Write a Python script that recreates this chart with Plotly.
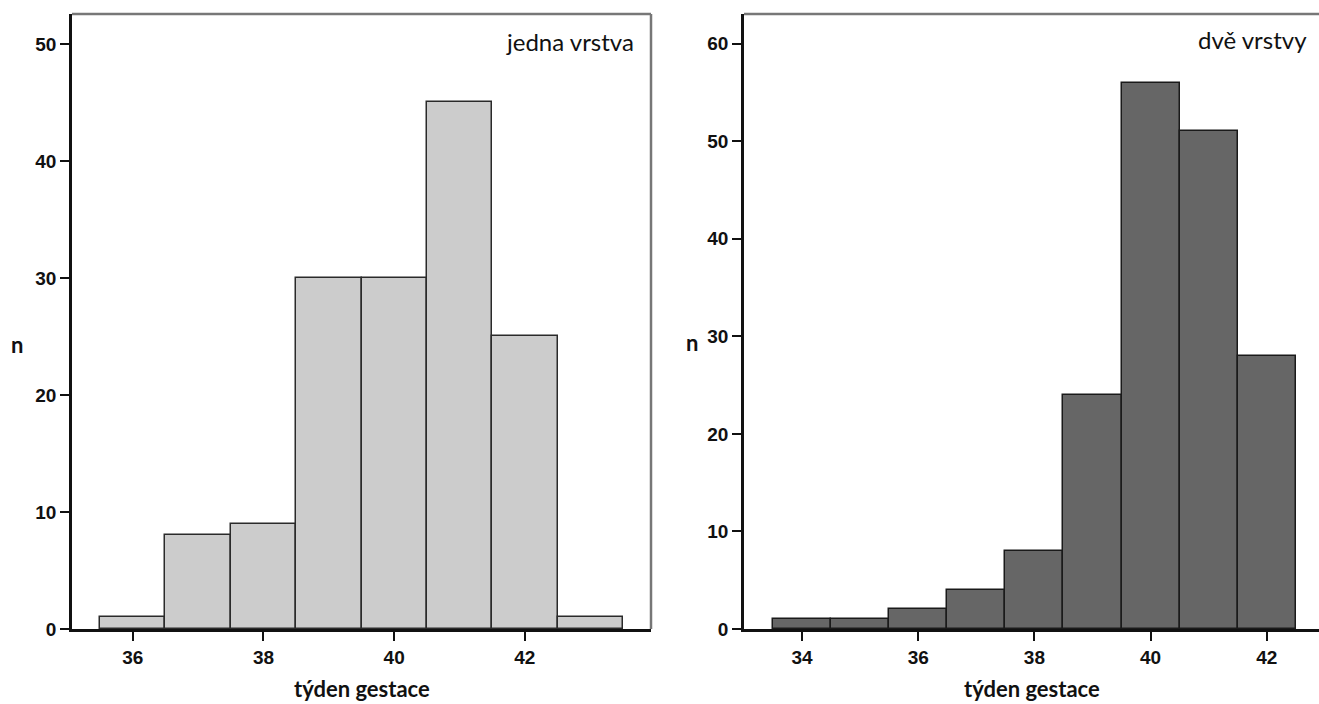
import plotly.graph_objects as go

# Data
weeks_one = [36, 37, 38, 39, 40, 41, 42, 43]
counts_one = [1, 8, 9, 30, 30, 45, 25, 1]
weeks_two = [34, 35, 36, 37, 38, 39, 40, 41, 42]
counts_two = [1, 1, 2, 4, 8, 24, 56, 51, 28]
label_one = "jedna vrstva"
label_two = "dvě vrstvy"
x_title = "týden gestace"
y_title = "n"

W, H = 1319, 704
tick_font = dict(family="Liberation Sans Narrow, Liberation Sans, Arial", size=19, color="#111", weight="bold")
title_font = dict(family="Lato, Open Sans", size=22, color="#111", weight="bold")
label_font = dict(family="Lato, Open Sans", size=24, color="#111")

fig = go.Figure()
fig.add_trace(go.Bar(x=weeks_one, y=counts_one, width=1, xaxis="x", yaxis="y",
                     marker=dict(color="#cccccc", line=dict(color="#2a2a2a", width=1.5)),
                     showlegend=False))
fig.add_trace(go.Bar(x=weeks_two, y=counts_two, width=1, xaxis="x2", yaxis="y2",
                     marker=dict(color="#666666", line=dict(color="#1a1a1a", width=1.5)),
                     showlegend=False))

axis_common = dict(showgrid=False, zeroline=False, showline=True, linecolor="#111", linewidth=2.5,
                   ticks="outside", ticklen=9, tickwidth=2, tickcolor="#111", tickfont=tick_font)

d1 = [72 / W, 651 / W]
d2 = [744 / W, 1.0]

fig.update_layout(
    width=W, height=H,
    margin=dict(l=0, r=0, t=14, b=75),
    paper_bgcolor="white", plot_bgcolor="white",
    bargap=0,
    xaxis=dict(domain=d1, range=[35.07, 43.93], tickvals=[36, 38, 40, 42], anchor="y", **axis_common),
    yaxis=dict(domain=[0, 1], range=[0, 52.56], dtick=10, anchor="x", **axis_common),
    xaxis2=dict(domain=d2, range=[33.0, 42.9], tickvals=[34, 36, 38, 40, 42], anchor="y2", **axis_common),
    yaxis2=dict(domain=[0, 1], range=[0, 63.03], dtick=10, anchor="x2", **axis_common),
    shapes=[
        dict(type="line", xref="paper", yref="paper", x0=d1[0], x1=d1[1], y0=1, y1=1,
             line=dict(color="#777", width=2.5)),
        dict(type="line", xref="paper", yref="paper", x0=d1[1], x1=d1[1], y0=0, y1=1,
             line=dict(color="#777", width=2.5)),
        dict(type="line", xref="paper", yref="paper", x0=d2[0], x1=d2[1], y0=1, y1=1,
             line=dict(color="#777", width=2.5)),
    ],
    annotations=[
        dict(text=label_one, xref="paper", yref="paper", x=636 / W, y=1 - (41 - 14) / 615,
             xanchor="right", yanchor="middle", showarrow=False, font=label_font),
        dict(text=label_two, xref="paper", yref="paper", x=1309 / W, y=1 - (40 - 14) / 615,
             xanchor="right", yanchor="middle", showarrow=False, font=label_font),
        dict(text=x_title, xref="paper", yref="paper", x=(d1[0] + d1[1]) / 2, y=-(688 - 629) / 615,
             xanchor="center", yanchor="middle", showarrow=False, font=title_font),
        dict(text=x_title, xref="paper", yref="paper", x=(d2[0] + d2[1]) / 2, y=-(688 - 629) / 615,
             xanchor="center", yanchor="middle", showarrow=False, font=title_font),
        dict(text=y_title, xref="paper", yref="paper", x=17 / W, y=1 - (344 - 14) / 615,
             xanchor="center", yanchor="middle", showarrow=False, font=title_font),
        dict(text=y_title, xref="paper", yref="paper", x=692 / W, y=1 - (342 - 14) / 615,
             xanchor="center", yanchor="middle", showarrow=False, font=title_font),
    ],
)

fig.write_html("out.html")
